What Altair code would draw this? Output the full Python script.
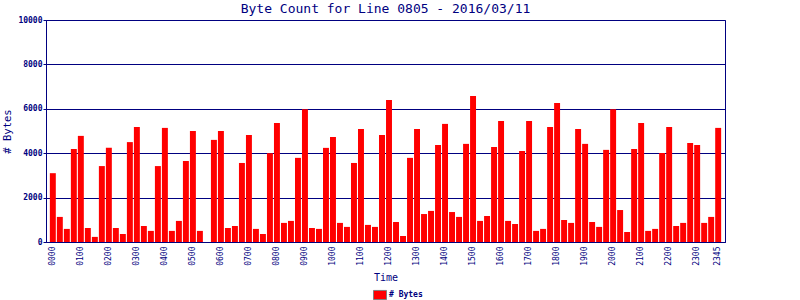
import altair as alt
import pandas as pd

TITLE = "Byte Count for Line 0805 - 2016/03/11"
SERIES = "# Bytes"
NAVY = "#000080"

times = [f"{h:02d}{m:02d}" for h in range(24) for m in (0, 15, 30, 45)]
byte_counts = [
    3100, 1130, 590, 4190, 4780, 630, 230, 3420,
    4240, 630, 360, 4500, 5180, 720, 500, 3420,
    5140, 500, 950, 3650, 5000, 500, 0, 4600,
    5000, 630, 720, 3560, 4820, 590, 360, 4000,
    5360, 860, 950, 3790, 5980, 630, 590, 4240,
    4730, 860, 680, 3560, 5090, 770, 680, 4820,
    6400, 900, 270, 3790, 5090, 1260, 1400, 4370,
    5320, 1350, 1130, 4420, 6580, 950, 1170, 4280,
    5450, 950, 810, 4100, 5450, 500, 590, 5180,
    6260, 990, 860, 5090, 4420, 900, 680, 4150,
    5980, 1440, 450, 4190, 5360, 500, 590, 4010,
    5180, 720, 860, 4460, 4370, 860, 1130, 5140,
]
x_labels = [f"{h:02d}00" for h in range(24)] + ["2345"]
y_ticks = [0, 2000, 4000, 6000, 8000, 10000]

df = pd.DataFrame({"time": times, "bytes": byte_counts, "series": SERIES})

chart = alt.Chart(df).mark_bar(color="#FF0000").encode(
    x=alt.X(
        "time:N",
        sort=None,
        scale=alt.Scale(paddingInner=0.15, paddingOuter=0.55),
        axis=alt.Axis(
            values=x_labels,
            title="Time",
            labelAngle=-90,
            labelFont="DejaVu Sans Mono",
            labelFontSize=8,
            labelColor=NAVY,
            labelPadding=4,
            ticks=False,
            domainColor=NAVY,
            titleFont="DejaVu Sans Mono",
            titleFontSize=10,
            titleFontWeight="normal",
            titleColor=NAVY,
            titlePadding=7,
        ),
    ),
    y=alt.Y(
        "bytes:Q",
        scale=alt.Scale(domain=[0, 10000], nice=False),
        axis=alt.Axis(
            values=y_ticks,
            format="d",
            title=SERIES,
            labelFont="DejaVu Sans Mono",
            labelFontSize=8,
            labelFontWeight="bold",
            labelColor=NAVY,
            labelPadding=1,
            tickSize=3,
            tickColor=NAVY,
            domainColor=NAVY,
            gridColor=NAVY,
            gridOpacity=1,
            titleFont="DejaVu Sans Mono",
            titleFontSize=10.5,
            titleFontWeight="normal",
            titleColor=NAVY,
            titleX=-34,
            titleY=111,
            titleBaseline="bottom",
        ),
    ),
    color=alt.Color(
        "series:N",
        scale=alt.Scale(domain=[SERIES], range=["#FF0000"]),
        legend=alt.Legend(
            title=None,
            orient="none",
            legendX=327,
            legendY=268,
            symbolType="M-1,-0.7H1V0.7H-1Z",
            symbolSize=169,
            symbolStrokeColor="#808080",
            symbolStrokeWidth=1,
            symbolOpacity=1,
            labelFont="DejaVu Sans Mono",
            labelFontSize=8,
            labelFontWeight="bold",
            labelColor=NAVY,
            labelOffset=2,
        ),
    ),
).properties(
    width=679,
    height=222,
    title=alt.TitleParams(
        TITLE,
        font="DejaVu Sans Mono",
        fontSize=13,
        fontWeight="normal",
        color=NAVY,
        offset=0,
    ),
    autosize=alt.AutoSizeParams(type="none"),
    padding={"left": 46, "top": 20, "right": 75, "bottom": 58},
).configure_view(stroke=NAVY, strokeWidth=1).configure_axisX(grid=False)

chart.save("out.html", embed_options={"renderer": "svg", "actions": False})
